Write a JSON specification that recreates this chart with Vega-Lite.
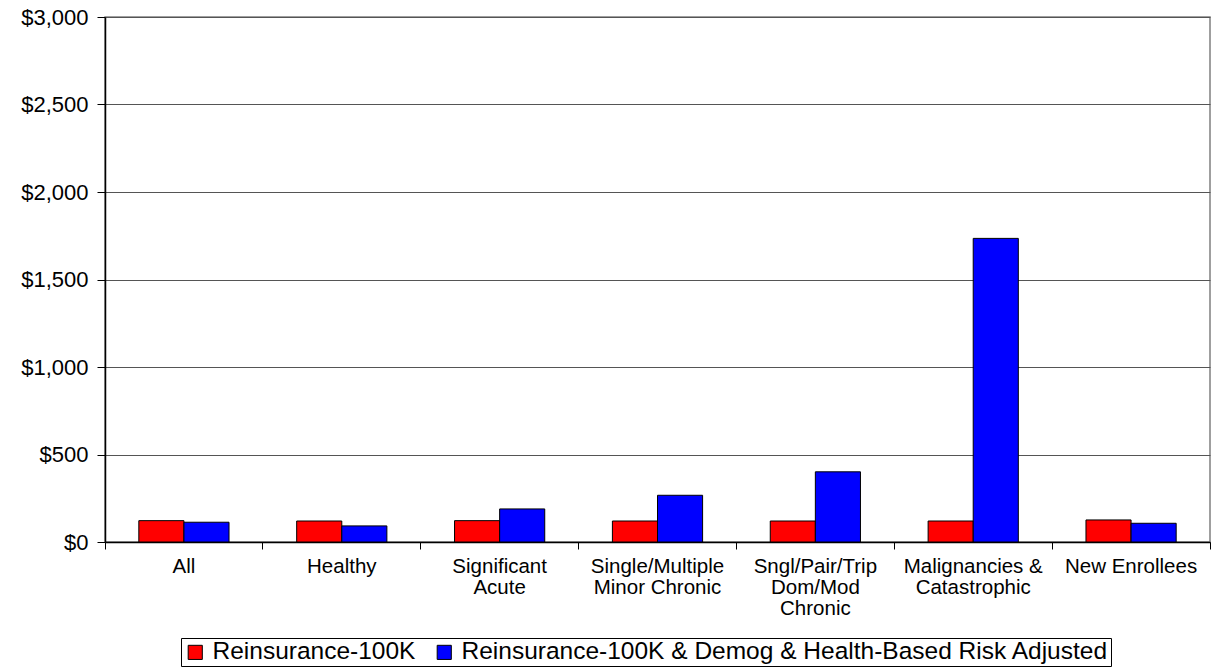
{
  "$schema": "https://vega.github.io/schema/vega-lite/v6.json",
  "width": 1105,
  "height": 525,
  "autosize": {"type": "none"},
  "padding": {"left": 105, "top": 17, "right": 1, "bottom": 127},
  "background": "white",
  "config": {
    "font": "Liberation Sans",
    "view": {"stroke": "#808080", "strokeWidth": 1.5}
  },
  "data": {
    "values": [
      {"group": "All", "series": "Reinsurance-100K", "value": 122},
      {"group": "All", "series": "Reinsurance-100K & Demog & Health-Based Risk Adjusted", "value": 113},
      {"group": "Healthy", "series": "Reinsurance-100K", "value": 120},
      {"group": "Healthy", "series": "Reinsurance-100K & Demog & Health-Based Risk Adjusted", "value": 92},
      {"group": "Significant|Acute", "series": "Reinsurance-100K", "value": 122},
      {"group": "Significant|Acute", "series": "Reinsurance-100K & Demog & Health-Based Risk Adjusted", "value": 189},
      {"group": "Single/Multiple|Minor Chronic", "series": "Reinsurance-100K", "value": 120},
      {"group": "Single/Multiple|Minor Chronic", "series": "Reinsurance-100K & Demog & Health-Based Risk Adjusted", "value": 267},
      {"group": "Sngl/Pair/Trip|Dom/Mod|Chronic", "series": "Reinsurance-100K", "value": 120},
      {"group": "Sngl/Pair/Trip|Dom/Mod|Chronic", "series": "Reinsurance-100K & Demog & Health-Based Risk Adjusted", "value": 401},
      {"group": "Malignancies &|Catastrophic", "series": "Reinsurance-100K", "value": 120},
      {"group": "Malignancies &|Catastrophic", "series": "Reinsurance-100K & Demog & Health-Based Risk Adjusted", "value": 1735},
      {"group": "New Enrollees", "series": "Reinsurance-100K", "value": 126},
      {"group": "New Enrollees", "series": "Reinsurance-100K & Demog & Health-Based Risk Adjusted", "value": 107}
    ]
  },
  "mark": {"type": "bar", "stroke": "black", "strokeWidth": 1},
  "encoding": {
    "x": {
      "field": "group",
      "type": "nominal",
      "sort": null,
      "scale": {"paddingInner": 0, "paddingOuter": 0},
      "axis": {
        "title": null,
        "labelAngle": 0,
        "labelExpr": "split(datum.label, '|')",
        "labelFontSize": 20.5,
        "labelColor": "black",
        "labelLineHeight": 21,
        "labelPadding": 7,
        "labelLimit": 300,
        "bandPosition": 1,
        "tickExtra": true,
        "labelOffset": 0,
        "tickSize": 7,
        "tickColor": "black",
        "domainColor": "black",
        "domainWidth": 1.5,
        "grid": false
      }
    },
    "xOffset": {
      "field": "series",
      "type": "nominal",
      "sort": ["Reinsurance-100K", "Reinsurance-100K & Demog & Health-Based Risk Adjusted"],
      "scale": {"paddingInner": 0, "paddingOuter": 0.75}
    },
    "y": {
      "field": "value",
      "type": "quantitative",
      "scale": {"domain": [0, 3000], "nice": false},
      "axis": {
        "title": null,
        "values": [0, 500, 1000, 1500, 2000, 2500, 3000],
        "format": "$,.0f",
        "labelFontSize": 22,
        "labelColor": "black",
        "labelPadding": 9,
        "tickSize": 8,
        "tickColor": "black",
        "domainColor": "black",
        "domainWidth": 1.5,
        "grid": true,
        "gridColor": "#555555",
        "gridWidth": 1
      }
    },
    "color": {
      "field": "series",
      "type": "nominal",
      "scale": {
        "domain": ["Reinsurance-100K", "Reinsurance-100K & Demog & Health-Based Risk Adjusted"],
        "range": ["#FF0000", "#0000FF"]
      },
      "legend": {
        "title": null,
        "orient": "none",
        "legendX": 76,
        "legendY": 621,
        "direction": "horizontal",
        "strokeColor": "black",
        "fillColor": "white",
        "padding": 2,
        "symbolType": "square",
        "symbolSize": 200,
        "symbolStrokeColor": "black",
        "symbolStrokeWidth": 1,
        "symbolOpacity": 1,
        "labelFontSize": 24.5,
        "labelColor": "black",
        "labelLimit": 1000,
        "labelOffset": 5,
        "columnPadding": 16
      }
    }
  }
}
